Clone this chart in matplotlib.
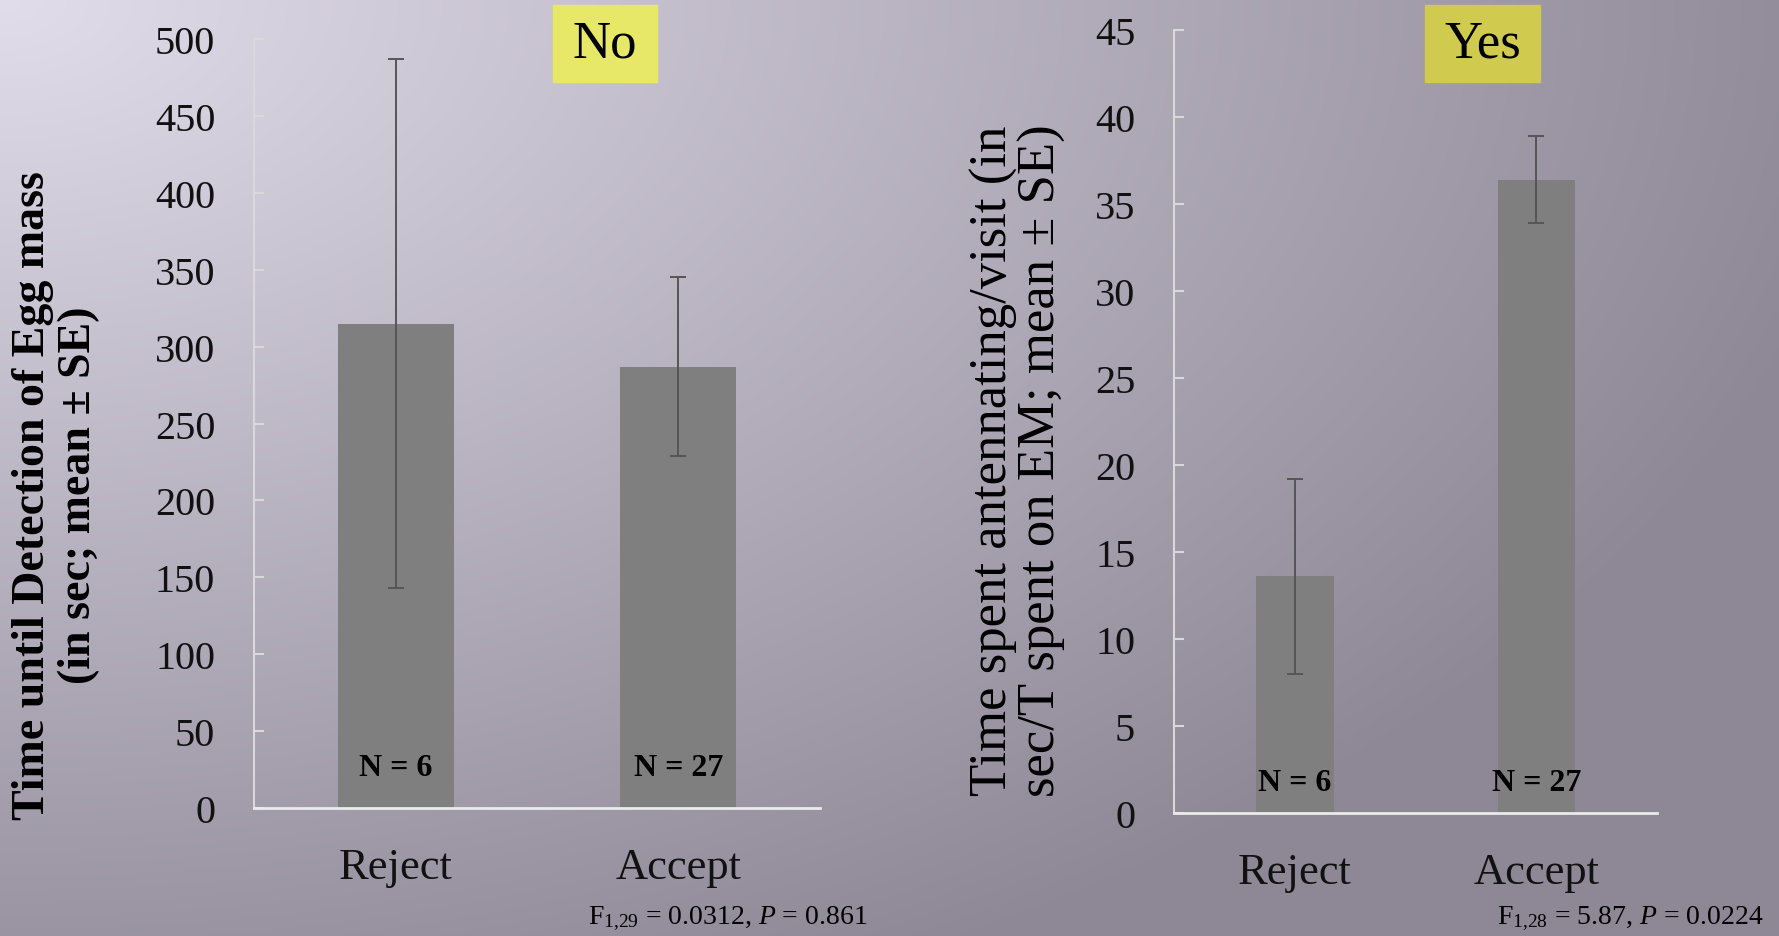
import matplotlib
matplotlib.use("Agg")
import matplotlib.pyplot as plt
from matplotlib.patches import Rectangle
import numpy as np

# data
categories = ["Reject", "Accept"]

no_means = [315, 287]
no_se = [172, 58]
no_n = ["N = 6", "N = 27"]
no_yticks = [0, 50, 100, 150, 200, 250, 300, 350, 400, 450, 500]

yes_means = [13.6, 36.4]
yes_se = [5.6, 2.5]
yes_n = ["N = 6", "N = 27"]
yes_yticks = [0, 5, 10, 15, 20, 25, 30, 35, 40, 45]

plt.rcParams['font.family'] = ['Liberation Serif', 'DejaVu Serif']
plt.rcParams['mathtext.fontset'] = 'custom'
plt.rcParams['mathtext.rm'] = 'Liberation Serif'
plt.rcParams['mathtext.it'] = 'Liberation Serif:italic'

W, H = 1779, 937
fig = plt.figure(figsize=(W / 100, H / 100), dpi=100)

# background gradient, light in the top left corner
bg = fig.add_axes([0, 0, 1, 1], zorder=-10)
yy, xx = np.mgrid[0:H, 0:W]
frac = np.clip(np.sqrt((xx / 1900.0) ** 2 + (yy / 1100.0) ** 2), 0, 1)
light = np.array([226, 221, 234]) / 255.0
dark = np.array([141, 135, 150]) / 255.0
img = light[None, None, :] + (dark - light)[None, None, :] * frac[:, :, None]
bg.imshow(img, aspect='auto', extent=[0, 1, 0, 1])
bg.set_axis_off()

bar_color = '#7f7f7f'
err_color = '#555555'


def style_axes(ax, yticks):
    ax.set_facecolor('none')
    for side in ['top', 'right']:
        ax.spines[side].set_visible(False)
    ax.spines['left'].set_color('#d9d9d9')
    ax.spines['left'].set_linewidth(1.5)
    ax.spines['bottom'].set_color('#ebebeb')
    ax.spines['bottom'].set_linewidth(2)
    ax.set_yticks(yticks)
    ax.set_ylim(yticks[0], yticks[-1])
    ax.tick_params(axis='y', direction='in', length=7, width=1.5,
                   color='#d9d9d9', labelsize=29, pad=28, labelcolor='#111111')
    ax.tick_params(axis='x', length=0, labelsize=32, pad=28, labelcolor='#111111')
    ax.set_xlim(-0.5, 1.5)


x = np.arange(len(categories))

# left panel: "No"
ax1 = fig.add_axes([0.1428, 0.1366, 0.3181, 0.8207])
ax1.bar(x, no_means, width=0.41, color=bar_color, zorder=2)
ax1.errorbar(x, no_means, yerr=no_se, fmt='none', ecolor=err_color,
             elinewidth=1.4, capsize=6, capthick=1.4, zorder=3)
style_axes(ax1, no_yticks)
ax1.set_xticks(x)
ax1.set_xticklabels(categories)
for i, label in enumerate(no_n):
    ax1.text(x[i], 0.053, label, transform=ax1.get_xaxis_transform(),
             ha='center', va='center', fontsize=23, fontweight='bold', zorder=4)
ax1.set_ylabel("Time until Detection of Egg mass\n(in sec; mean \u00b1 SE)",
               fontsize=33, fontweight='bold', linespacing=1.1)
ax1.yaxis.label.set_va('center')
ax1.yaxis.set_label_coords(-0.35, 0.408)

# right panel: "Yes"
ax2 = fig.add_axes([0.660, 0.1313, 0.2715, 0.8356])
ax2.bar(x, yes_means, width=0.32, color=bar_color, zorder=2)
ax2.errorbar(x, yes_means, yerr=yes_se, fmt='none', ecolor=err_color,
             elinewidth=1.4, capsize=6, capthick=1.4, zorder=3)
style_axes(ax2, yes_yticks)
ax2.set_xticks(x)
ax2.set_xticklabels(categories)
for i, label in enumerate(yes_n):
    ax2.text(x[i], 0.039, label, transform=ax2.get_xaxis_transform(),
             ha='center', va='center', fontsize=23, fontweight='bold', zorder=4)
ax2.set_ylabel("Time spent antennating/visit (in\nsec/T spent on EM; mean \u00b1 SE)",
               fontsize=38, linespacing=1.0)
ax2.yaxis.label.set_va('center')
ax2.yaxis.set_label_coords(-0.323, 0.451)

# yellow title boxes
fig.patches.append(Rectangle((0.3108, 0.9114), 0.0585, 0.0822,
                             transform=fig.transFigure, color='#e8e868', zorder=1))
fig.text(0.3400, 0.9525, "No", ha='center', va='center', fontsize=38)
fig.patches.append(Rectangle((0.8010, 0.9114), 0.0646, 0.0822,
                             transform=fig.transFigure, color='#d0cb4e', zorder=1))
fig.text(0.8333, 0.9525, "Yes", ha='center', va='center', fontsize=38)

# test statistics
fig.text(0.4092, 0.019, r"F$_{1{,}29}$ = 0.0312, $P$ = 0.861",
         ha='center', va='center', fontsize=20)
fig.text(0.9163, 0.019, r"F$_{1{,}28}$ = 5.87, $P$ = 0.0224",
         ha='center', va='center', fontsize=20)

fig.savefig("out.png", dpi=100)
